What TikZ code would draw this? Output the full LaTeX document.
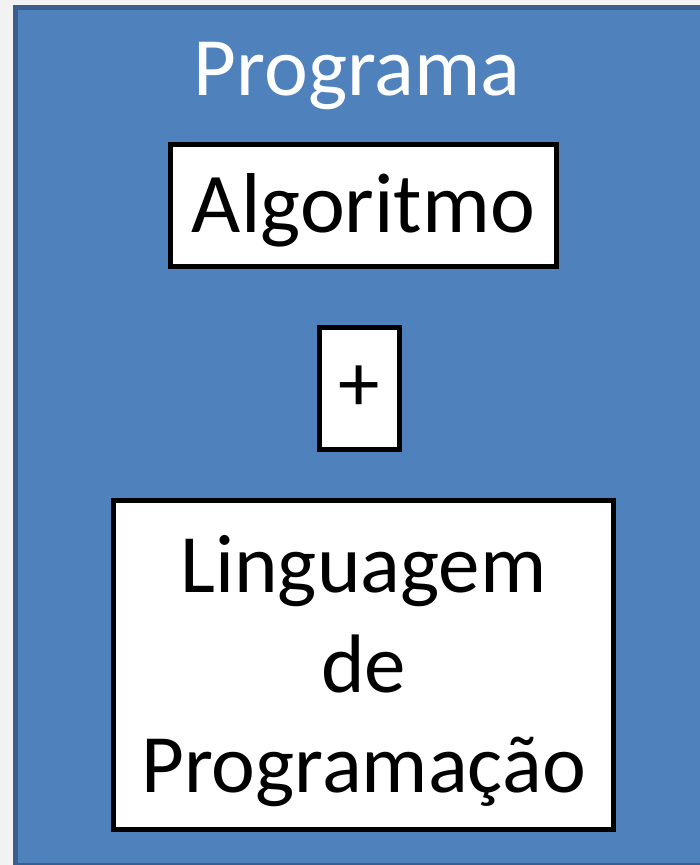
\documentclass[tikz,border=0pt]{standalone}
\usepackage{fontspec}
\setmainfont{Carlito}
\usetikzlibrary{%
    calc,
    positioning
}
\definecolor{pagegray}{HTML}{F2F2F2}
\definecolor{progfill}{HTML}{4F81BD}
\definecolor{progline}{HTML}{3A5F8E}
\tikzset{
    whitebox/.style={draw=black, fill=white, line width=5pt, inner sep=0pt},
    bigtext/.style={font=\fontsize{83}{100}\selectfont, inner sep=0pt, align=center}
}

\begin{document}
\begin{tikzpicture}[x=1pt, y=-1pt]
    \useasboundingbox[fill=pagegray] (0,0) rectangle (700,865);
    \draw[fill=progfill, draw=progline, line width=5pt] (15.5,7.5) rectangle (712,865.5);

    \node[bigtext, text=white, anchor=base] (title) at (357,95) {Programa};

    \node[whitebox, minimum width=386pt, minimum height=122pt] (algbox)  at (363.5,205.5) {};
    \node[whitebox, minimum width=80pt,  minimum height=122pt] (plusbox) at (359.5,388.5) {};
    \node[whitebox, minimum width=500pt, minimum height=329pt] (lingbox) at (363.5,665)   {};

    \node[bigtext, font=\fontsize{85}{100}\selectfont, anchor=base] (algtext)
        at ($(algbox.center)+(0,27)$) {Algoritmo};
    \node[bigtext] (plustext) at (plusbox.center) {+};
    \node[bigtext, anchor=north] (lingtext) at ($(lingbox.north)+(0,37)$)
        {Linguagem\\de\\Programação};
\end{tikzpicture}
\end{document}
